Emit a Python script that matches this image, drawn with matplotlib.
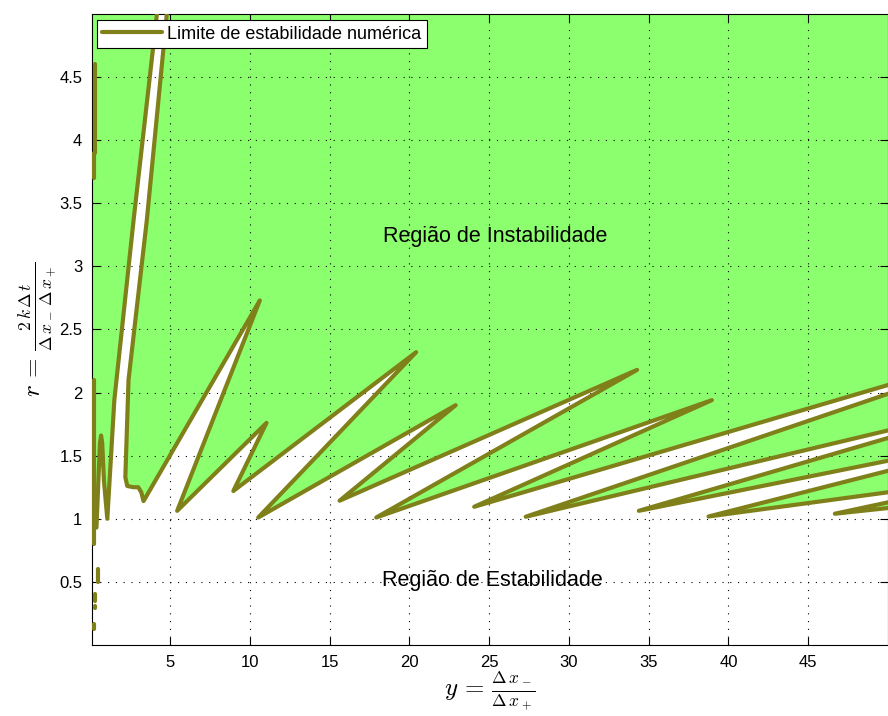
import matplotlib
matplotlib.use('Agg')
import matplotlib.pyplot as plt
import numpy as np

plt.rcParams['font.family'] = ['Liberation Sans', 'DejaVu Sans']
plt.rcParams['mathtext.fontset'] = 'cm'

# upper edge of the stable (white) region, left to right
# (points past x = 50 are where the fingers leave the plot on the right)
bound_x = [0.0, 0.38, 0.5, 0.6, 0.67, 0.74, 0.85, 1.06,
           1.5, 2.71, 4.17, 4.35,
           4.94, 4.79, 3.54, 2.39, 2.19, 2.31, 2.69, 3.0, 3.19, 3.33,
           10.62, 5.44, 11.04, 8.96, 20.42, 10.52, 22.9, 15.62,
           34.27, 17.92, 38.96, 24.06,
           50.0, 52.0, 52.0, 50.0, 27.29,
           50.0, 52.0, 52.0, 50.0, 34.38,
           50.0, 52.0, 52.0, 50.0, 38.75,
           50.0, 52.0, 52.0, 50.0, 46.67,
           50.0, 52.0]
bound_y = [0.93, 0.93, 1.3, 1.6, 1.66, 1.6, 1.3, 1.0,
           1.94, 3.37, 5.0, 5.2,
           5.2, 5.0, 3.37, 2.1, 1.33, 1.26, 1.25, 1.25, 1.21, 1.14,
           2.73, 1.063, 1.76, 1.22, 2.32, 1.01, 1.90, 1.143,
           2.18, 1.01, 1.94, 1.095,
           2.06, 2.135, 2.075, 1.99, 1.016,
           1.70, 1.76, 1.714, 1.64, 1.063,
           1.46, 1.51, 1.44, 1.38, 1.018,
           1.21, 1.24, 1.19, 1.13, 1.04,
           1.085, 1.11]

# small contour pieces hugging the left axis
edge_pieces = [
    ([0.30, 0.30], [4.6, 3.9]),
    ([0.25, 0.25], [3.9, 3.7]),
    ([0.25, 0.25], [2.1, 0.8]),
    ([0.50, 0.50], [0.60, 0.50]),
    ([0.30, 0.30], [0.40, 0.35]),
    ([0.27, 0.27], [0.31, 0.29]),
    ([0.22, 0.22], [0.17, 0.13]),
]

x_ticks = [5, 10, 15, 20, 25, 30, 35, 40, 45]
y_ticks = [0.5, 1, 1.5, 2, 2.5, 3, 3.5, 4, 4.5]
y_tick_labels = ['0.5', '1', '1.5', '2', '2.5', '3', '3.5', '4', '4.5']

green = '#8cff6e'
olive = '#80801a'

fig = plt.figure(figsize=(8.88, 7.16), dpi=100)
ax = fig.add_axes([0.1036, 0.0992, 0.8964, 0.8813])
ax.set_facecolor(green)

# white stable region, closed along the bottom
poly_x = bound_x + [52.0, 0.0]
poly_y = bound_y + [0.0, 0.0]
ax.fill(poly_x, poly_y, color='white', lw=0, zorder=1)

# the stability limit itself
ax.plot(bound_x[1:], bound_y[1:], color=olive, lw=3.0, solid_joinstyle='round',
        solid_capstyle='round', zorder=3, label='Limite de estabilidade numérica')
for px, py in edge_pieces:
    ax.plot(px, py, color=olive, lw=3.0, solid_capstyle='round', zorder=3)

ax.text(25.4, 3.24, 'Região de Instabilidade', ha='center', va='center', fontsize=15.5)
ax.text(25.2, 0.51, 'Região de Estabilidade', ha='center', va='center', fontsize=15.5)

ax.set_xlim(0.1, 50)
ax.set_ylim(0, 5)
ax.set_xticks(x_ticks)
ax.set_yticks(y_ticks)
ax.set_yticklabels(y_tick_labels)
ax.tick_params(direction='in', length=6, width=0.8, top=True, right=True,
               labelsize=12, pad=7)
ax.set_axisbelow(False)
ax.grid(True, linestyle=(0, (1, 6)), color='black', lw=0.8)

ax.set_xlabel(r'$y\,=\,\frac{\Delta\,x_-}{\Delta\,x_+}$', fontsize=18, labelpad=0)
ax.set_ylabel(r'$r\,=\,\frac{2\,k\,\Delta\,t}{\Delta\,x_-\,\Delta\,x_+}$', fontsize=18,
              labelpad=0)

leg = ax.legend(loc='upper left', bbox_to_anchor=(0.006, 0.99), borderaxespad=0,
                fancybox=False, framealpha=1, edgecolor='black', fontsize=13,
                handlelength=3.3, handletextpad=0.3, borderpad=0.3)
leg.get_frame().set_linewidth(0.8)

fig.savefig('out.png', dpi=100)
